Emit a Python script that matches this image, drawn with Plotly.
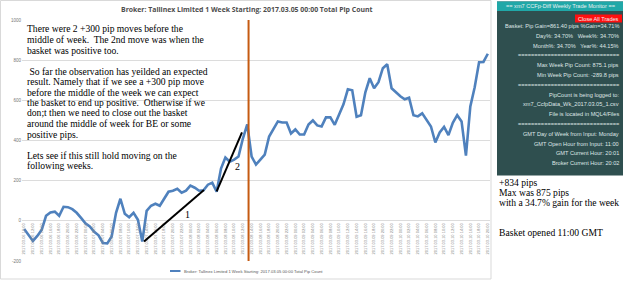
import plotly.graph_objects as go
import pandas as pd

# ---------------- data ----------------
hours = pd.date_range("2017-03-06 10:00", "2017-03-10 20:00", freq="h")
categories = [h.strftime("%Y.%m.%d %H:%M") for h in hours]

pip_count = [
    -41, -70, -100, -75, -45, 25, 42, 46, 25, 70,
    68, 58, 40, 15, -12, -28, -55, -72, -110, -112,
    -78, 40, 110, 35, 18, 40, 5, -103, 50, 75,
    85, 75, 110, 145, 150, 160, 140, 150, 175, 165,
    150, 152, 180, 190, 145, 260, 315, 294, 305, 320,
    410, 480, 320, 280, 305, 330, 420, 455, 495, 490,
    490, 435, 455, 430, 430, 480, 500, 475, 470, 515,
    515, 478, 525, 580, 655, 650, 518, 526, 640, 710,
    660, 690, 760, 780, 660, 638, 620, 605, 613, 526,
    520, 535, 502, 470, 390, 440, 468, 427, 488, 526,
    495, 325, 570, 665, 790, 791, 832,
]
tick_idx = list(range(0, len(categories), 2))
tick_text = [categories[i] for i in tick_idx]
y_ticks = [-200, 0, 200, 400, 600, 800, 1000]

series_name = "Broker: Tallinex Limited 1 Week Starting: 2017.03.05 00:00 Total Pip Count"
mid_week_pos = 51.3
trend1 = ([27.4, 41.1], [-103, 154])
trend2 = ([44.0, 49.8], [147, 440])

left_notes = [
    "There were 2 +300 pip moves before the",
    "middle of week.  The 2nd move was when the",
    "basket was positive too.",
    "",
    " So far the observation has yeilded an expected",
    "result. Namely that if we see a +300 pip move",
    "before the middle of the week we can expect",
    "the basket to end up positive.  Otherwise if we",
    "don;t then we need to close out the basket",
    "around the middle of week for BE or some",
    "positive pips.",
    "",
    "Lets see if this still hold moving on the",
    "following weeks.",
]
panel_header = "== xm7 CCFp-Diff Weekly Trade Monitor =="
panel_lines = [
    "Basket: Pip Gain=861.40 pips %Gain=34.71%",
    "Day%: 34.70%   Week%: 34.70%",
    "Month%: 34.70%   Year%: 44.15%",
    "===============================",
    "Max Week Pip Count: 875.1 pips",
    "Min Week Pip Count: -289.8 pips",
    "===============================",
    "PipCount is being logged to:",
    "xm7_CcfpData_Wk_2017.03.05_1.csv",
    "File is located in MQL4/Files",
    "===============================",
    "GMT Day of Week from Input: Monday",
    "GMT Open Hour from Input: 11:00",
    "GMT Current Hour: 20:01",
    "Broker Current Hour: 20:02",
]
right_notes = ["+834 pips", "Max was 875 pips", "with a 34.7% gain for the week"]
right_note2 = "Basket opened 11:00 GMT"

# ---------------- layout helpers ----------------
W, H = 625, 282
L, R, T, B = 22, 490, 20, 261


def xp(px):
    return (px - L) / (R - L)


def yp(py):
    return (B - py) / (B - T)


def note(px, py, text, size, family, color, xanchor="left"):
    return dict(x=xp(px), y=yp(py), xref="paper", yref="paper", text=text, showarrow=False,
                xanchor=xanchor, yanchor="middle", font=dict(family=family, size=size, color=color))


fig = go.Figure()
fig.add_trace(go.Scatter(
    x=list(range(len(categories))), y=pip_count, mode="lines",
    line=dict(color="#4f81bd", width=2.6), name=series_name, showlegend=False,
))

shapes = []
annotations = []

# chart frame
shapes.append(dict(type="rect", xref="paper", yref="paper", x0=xp(0.5), x1=xp(491), y0=yp(279), y1=yp(0.5),
                   line=dict(color="#d9d9d9", width=1), layer="below"))
# mid-week line
shapes.append(dict(type="line", xref="x", yref="paper", x0=mid_week_pos, x1=mid_week_pos, y0=0, y1=1,
                   line=dict(color="#c55a11", width=2)))
# hand-drawn trend lines
for tx, ty in (trend1, trend2):
    shapes.append(dict(type="line", xref="x", yref="y", x0=tx[0], x1=tx[1], y0=ty[0], y1=ty[1],
                       line=dict(color="black", width=2)))
annotations.append(note(187, 214, "1", 10, "Liberation Serif", "black", "center"))
annotations.append(note(237, 166, "2", 10, "Liberation Serif", "black", "center"))

# title
annotations.append(note(246, 9.5, "<b>" + series_name + "</b>", 6.9, "Open Sans", "#4d4d4d", "center"))

# legend (manual)
shapes.append(dict(type="line", xref="paper", yref="paper", x0=xp(170), x1=xp(180.5), y0=yp(271), y1=yp(271),
                   line=dict(color="#4f81bd", width=2)))
annotations.append(note(182, 271, series_name, 4.2, "Liberation Sans", "#595959"))

# left notes
for i, line in enumerate(left_notes):
    if line:
        annotations.append(note(25, 29 + i * 10.5, line, 9.6, "Liberation Serif", "black"))

# right panel
shapes.append(dict(type="rect", xref="paper", yref="paper", x0=xp(497), x1=xp(623), y0=yp(175.5), y1=yp(1.5),
                   fillcolor="#2f4f4f", line=dict(width=0)))
shapes.append(dict(type="rect", xref="paper", yref="paper", x0=xp(497), x1=xp(623), y0=yp(11), y1=yp(1.5),
                   fillcolor="#20a8a8", line=dict(width=0)))
annotations.append(note(560, 6.5, panel_header, 5.6, "Liberation Sans", "#e8f0f0", "center"))
shapes.append(dict(type="rect", xref="paper", yref="paper", x0=xp(575), x1=xp(622), y0=yp(22.5), y1=yp(14.5),
                   fillcolor="#ff1010", line=dict(width=0)))
annotations.append(note(598.5, 18.5, "Close All Trades", 5.6, "Liberation Sans", "#f0f0f0", "center"))
for i, line in enumerate(panel_lines):
    annotations.append(note(621, 26 + i * 9.8, line, 5.6, "Liberation Sans", "#dfe6e6", "right"))

for i, line in enumerate(right_notes):
    annotations.append(note(497, 182 + i * 10, line, 9.6, "Liberation Serif", "black"))
annotations.append(note(497, 232, right_note2, 9.6, "Liberation Serif", "black"))

fig.update_layout(
    width=W, height=H,
    margin=dict(l=L, r=W - R, t=T, b=H - B, pad=0),
    paper_bgcolor="white", plot_bgcolor="white",
    shapes=shapes, annotations=annotations,
    showlegend=False,
    xaxis=dict(
        range=[-0.5, len(categories) - 0.5], tickmode="array", tickvals=tick_idx, ticktext=tick_text,
        tickangle=-90, tickfont=dict(family="Liberation Sans", size=4, color="#888888"),
        showgrid=False, zeroline=False, showline=False, ticks="",
        anchor="free", position=yp(221.5),
    ),
    yaxis=dict(
        range=[-200, 1000], tickvals=y_ticks, ticktext=[str(v) for v in y_ticks],
        tickfont=dict(family="Liberation Sans", size=4.5, color="#777777"),
        showgrid=True, gridcolor="#dcdcdc", gridwidth=1, zeroline=False, showline=False, ticks="",
    ),
)

fig.write_html("out.html")
